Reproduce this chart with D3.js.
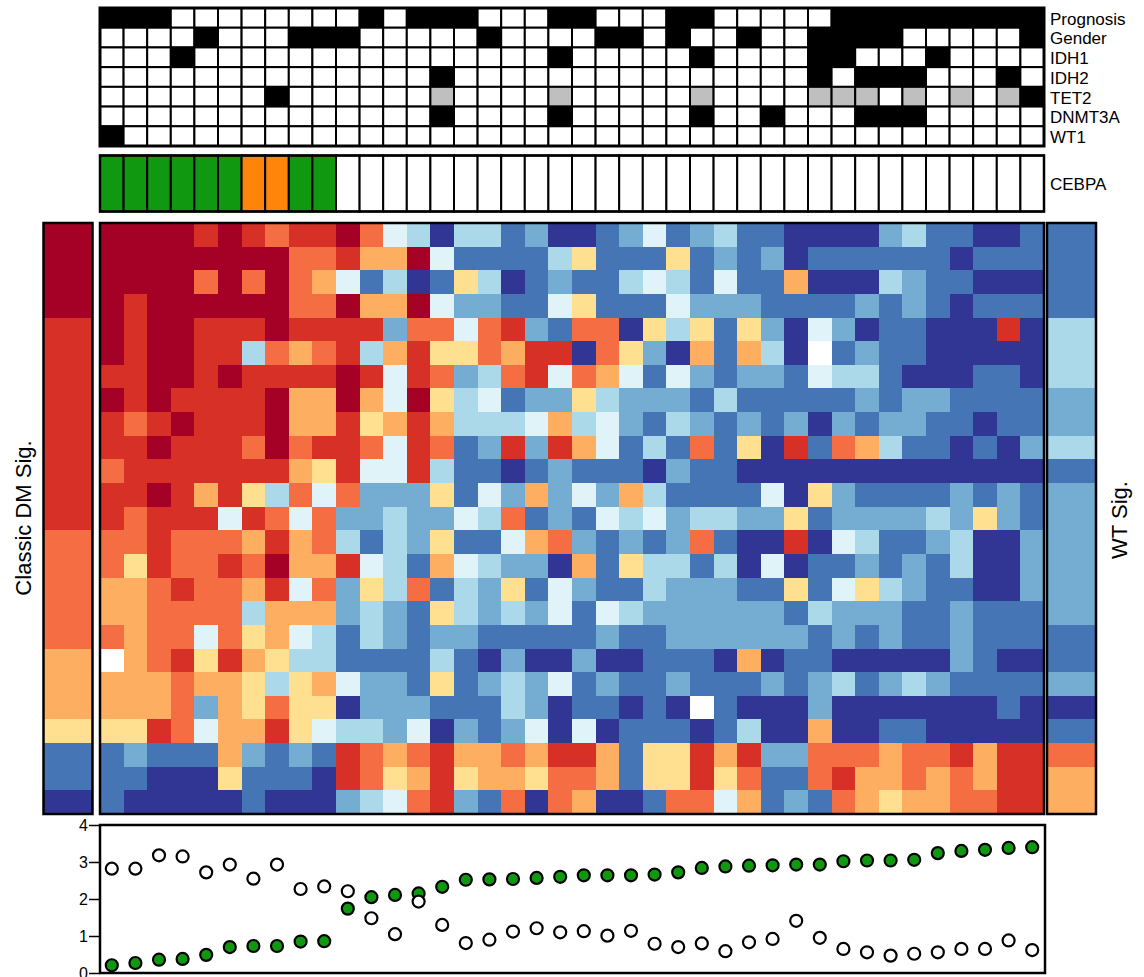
<!DOCTYPE html>
<html>
<head>
<meta charset="utf-8">
<script src="https://cdn.jsdelivr.net/npm/d3@7/dist/d3.min.js"></script>
<style>
  body { margin: 0; background: #fff; }
  svg text { font-family: "Liberation Sans", Arial, sans-serif; fill: #000; }
</style>
</head>
<body>
<svg id="chart"></svg>
<script>
/* ---------- data ---------- */
const sampleIds = d3.range(40);

// mutation tracks: 0 = none (white), 1 = mutated (black), 2 = other (grey)
const mutationNames = ["Prognosis", "Gender", "IDH1", "IDH2", "TET2", "DNMT3A", "WT1"];
const mutationRows = [
  "1110000000010111000110001100000111111111",
  "0000100011100000100001101001001111000001",
  "0001000000000000000100000100001100010000",
  "0000000000000010000000000000001011100010",
  "0000000100000020000200000200002220202021",
  "0000000000000010000100000100100011100000",
  "1000000000000000000000000000000000000000"
];

// CEBPA status: g = double mutant, o = single mutant, - = wild type
const cebpaStatus = "ggggggoogg------------------------------";

// heatmap levels, one string per probe row, one char per sample
// R r o l y W w c m b B  =  high ... low
const heatRows = [
  "RRRRrRrorrRowcBccbmBBbmwbmcbbBBBBmcbbBBb",
  "RRRRRRRRoorllRwbbbbcybbbybmbmBbbbbbbBbbb",
  "RRRRoRoRolwbcBbycBbmbbcwcbwbblBBBcmbbBBB",
  "RrRRRRRRooRllRwmmbbwybbbwmmmbbbbmbmbBbbb",
  "RrRRrrrRrrrrmoowormbooBycybymBwmBbbBBBrB",
  "RrRRrrcolorclryyolrrBoymBlblcBWbmbbBBBBB",
  "rrRRrRrrrrRrwromcorwolwbwmbmmbwccbBBBbbB",
  "RrRrrrrRllRlwRycwbmmycmmmbcbbbbbmbmmbbbb",
  "rorRrrrRllrylrlcccwlcwmbcmbmbmBmbmmbbBbb",
  "rrRrrroRorrowrobmrmrlwbcbobyBrbolcbbBbBm",
  "orrrrrrrlyrwwrcbbBbmbbbBmbbBBBBBBBBBBBBB",
  "rrRrlrycowommmybwmlmwmlcbbbbwBymbbbbmbmb",
  "rorrrwrowommcmmwcobmbwcwmccmmybmmmmcmymb",
  "oorooolrlocbcmybbwlombmbmobBBrBwcbbmcBBm",
  "oyrooroRllrwcblwcmmBlbyccbcBwBbbmbmbcBBm",
  "lloroolrwomycobcmybwmbbcmmmbbybwycmbbBBm",
  "llooooclllmcmbycmcmwbwcmmmmmmbcmmmbbmbbb",
  "oloowoylwcbcmbmmbbbbbmbbmmmmmmbmbmbbmbbb",
  "WloryrlyccbbbbcbBmBBmBBbbbBlBbbBBBBBmbBB",
  "lllollycylwmmbybmcmwbmbbmbbbmbmcbmcmbbbb",
  "lllomlyoyyBmmmbbbcmBbbBbBWbBBBmBBBBBBBbB",
  "yyrowllrywccmwBmbmwBwBbbbBbcBBlBBbbBBBBB",
  "bmbbblmbmbrolorllolrrlbyyrlrmmoooloorlrr",
  "bbBBBybbbBroylryllyoolbyyryobborllololrr",
  "bBBBBBbBBBmcwormboBolBBboowlbmbolylloorr"
];

// side signature bars, one char per heatmap row
const dmSig = "RRRRrrrrrrrrrooooolllybbB";
const wtSig = "bbbbcccmmcbmmmmmmbbmBboll";

// signature scores per sample (bottom panel)
const dmScore = [0.21, 0.27, 0.36, 0.38, 0.49, 0.70, 0.73, 0.73, 0.85, 0.86,
  1.74, 2.05, 2.11, 2.15, 2.33, 2.52, 2.53, 2.54, 2.57, 2.60,
  2.64, 2.64, 2.64, 2.66, 2.72, 2.84, 2.88, 2.90, 2.91, 2.93,
  2.93, 3.02, 3.04, 3.04, 3.06, 3.24, 3.30, 3.33, 3.38, 3.40];
const wtScore = [2.82, 2.82, 3.18, 3.15, 2.72, 2.93, 2.55, 2.93, 2.27, 2.34,
  2.21, 1.48, 1.05, 1.93, 1.30, 0.81, 0.90, 1.12, 1.21, 1.10,
  1.13, 1.01, 1.14, 0.79, 0.70, 0.80, 0.59, 0.83, 0.92, 1.41,
  0.95, 0.65, 0.56, 0.47, 0.52, 0.56, 0.65, 0.65, 0.88, 0.62];
const yTicks = [0, 1, 2, 3, 4];

/* ---------- layout / styles ---------- */
const width = 1144, height = 977;
const left = 100, right = 1044;
const levelCodes = ["R", "r", "o", "l", "y", "W", "w", "c", "m", "b", "B"];
const levelColors = ["#a50026", "#d73027", "#f46d43", "#fdae61", "#fee090", "#ffffff",
  "#e0f3f8", "#abd9e9", "#74add1", "#4575b4", "#313695"];
const heatColor = d3.scaleOrdinal().domain(levelCodes).range(levelColors);
const mutColor = d3.scaleOrdinal().domain(["0", "1", "2"]).range(["#ffffff", "#000000", "#bfbfbf"]);
const cebpaColor = d3.scaleOrdinal().domain(["g", "o", "-"]).range(["#119811", "#ff850a", "#ffffff"]);

const svg = d3.select("#chart").attr("width", width).attr("height", height);

const x = d3.scaleBand().domain(sampleIds).range([left, right]);

/* ---------- mutation grid ---------- */
const mutY = d3.scaleBand().domain(mutationNames).range([8, 146]);
const mutG = svg.append("g");
mutationNames.forEach((name, r) => {
  mutG.selectAll(null)
    .data(mutationRows[r].split(""))
    .enter().append("rect")
      .attr("x", (d, i) => x(i))
      .attr("y", mutY(name))
      .attr("width", x.bandwidth())
      .attr("height", mutY.bandwidth())
      .attr("fill", d => mutColor(d))
      .attr("stroke", "#000")
      .attr("stroke-width", 2);
});
mutG.append("rect")
  .attr("x", left).attr("y", 8).attr("width", right - left).attr("height", 138)
  .attr("fill", "none").attr("stroke", "#000").attr("stroke-width", 3);

svg.append("g").selectAll("text")
  .data(mutationNames)
  .enter().append("text")
    .attr("x", 1050)
    .attr("y", d => mutY(d) + mutY.bandwidth() - 3)
    .style("font-size", "17px")
    .text(d => d);

/* ---------- CEBPA row ---------- */
const cebpaTop = 155.5, cebpaH = 56;
const cebG = svg.append("g");
cebG.selectAll("rect")
  .data(cebpaStatus.split(""))
  .enter().append("rect")
    .attr("x", (d, i) => x(i))
    .attr("y", cebpaTop)
    .attr("width", x.bandwidth())
    .attr("height", cebpaH)
    .attr("fill", d => cebpaColor(d))
    .attr("stroke", "#000")
    .attr("stroke-width", 2);
cebG.append("rect")
  .attr("x", left).attr("y", cebpaTop).attr("width", right - left).attr("height", cebpaH)
  .attr("fill", "none").attr("stroke", "#000").attr("stroke-width", 2.5);
svg.append("text")
  .attr("x", 1050).attr("y", cebpaTop + cebpaH / 2 + 6)
  .style("font-size", "17px")
  .text("CEBPA");

/* ---------- heatmap ---------- */
const rowIds = d3.range(heatRows.length);
const y = d3.scaleBand().domain(rowIds).range([223, 814]);
const heatG = svg.append("g").attr("shape-rendering", "crispEdges");
heatRows.forEach((row, r) => {
  heatG.selectAll(null)
    .data(row.split(""))
    .enter().append("rect")
      .attr("x", (d, i) => x(i))
      .attr("y", y(r))
      .attr("width", x.bandwidth() + 0.5)
      .attr("height", y.bandwidth() + 0.5)
      .attr("fill", d => heatColor(d));
});
svg.append("rect")
  .attr("x", left).attr("y", 223).attr("width", right - left).attr("height", 591)
  .attr("fill", "none").attr("stroke", "#000").attr("stroke-width", 2.5);

// side bars
function sideBar(codes, x0, w) {
  const g = svg.append("g");
  g.append("g").attr("shape-rendering", "crispEdges")
    .selectAll("rect")
    .data(codes.split(""))
    .enter().append("rect")
      .attr("x", x0)
      .attr("y", (d, i) => y(i))
      .attr("width", w)
      .attr("height", y.bandwidth() + 0.5)
      .attr("fill", d => heatColor(d));
  g.append("rect")
    .attr("x", x0).attr("y", 223).attr("width", w).attr("height", 591)
    .attr("fill", "none").attr("stroke", "#000").attr("stroke-width", 2.5);
}
sideBar(dmSig, 43.5, 49);
sideBar(wtSig, 1047, 49);

svg.append("text")
  .attr("transform", "translate(31," + 518 + ") rotate(-90)")
  .attr("text-anchor", "middle")
  .style("font-size", "22px")
  .text("Classic DM Sig.");
svg.append("text")
  .attr("transform", "translate(1127," + 520 + ") rotate(-90)")
  .attr("text-anchor", "middle")
  .style("font-size", "22px")
  .text("WT Sig.");

/* ---------- score panel ---------- */
const plotTop = 825, plotBottom = 973;
const yScore = d3.scaleLinear().domain([0, 4]).range([plotBottom, plotTop]);

const axis = svg.append("g")
  .attr("transform", "translate(" + left + ",0)")
  .call(d3.axisLeft(yScore).tickValues(yTicks).tickSize(11).tickPadding(1).tickFormat(d3.format("d")));
axis.select(".domain").remove();
axis.selectAll(".tick line").attr("stroke", "#000").attr("stroke-width", 1.5);
axis.selectAll(".tick text")
  .attr("fill", "#000")
  .style("font-size", "16px")
  .style("font-family", "'Liberation Sans', Arial, sans-serif");

svg.append("rect")
  .attr("x", left).attr("y", plotTop).attr("width", 945).attr("height", plotBottom - plotTop)
  .attr("fill", "none").attr("stroke", "#000").attr("stroke-width", 2.5);

const cx = i => x(i) + x.bandwidth() / 2;
svg.append("g").selectAll("circle")
  .data(dmScore)
  .enter().append("circle")
    .attr("cx", (d, i) => cx(i))
    .attr("cy", d => yScore(d))
    .attr("r", 6)
    .attr("fill", "#119811")
    .attr("stroke", "#000")
    .attr("stroke-width", 2.2);
svg.append("g").selectAll("circle")
  .data(wtScore)
  .enter().append("circle")
    .attr("cx", (d, i) => cx(i))
    .attr("cy", d => yScore(d))
    .attr("r", 6)
    .attr("fill", "#fff")
    .attr("stroke", "#000")
    .attr("stroke-width", 2.2);
</script>
</body>
</html>
